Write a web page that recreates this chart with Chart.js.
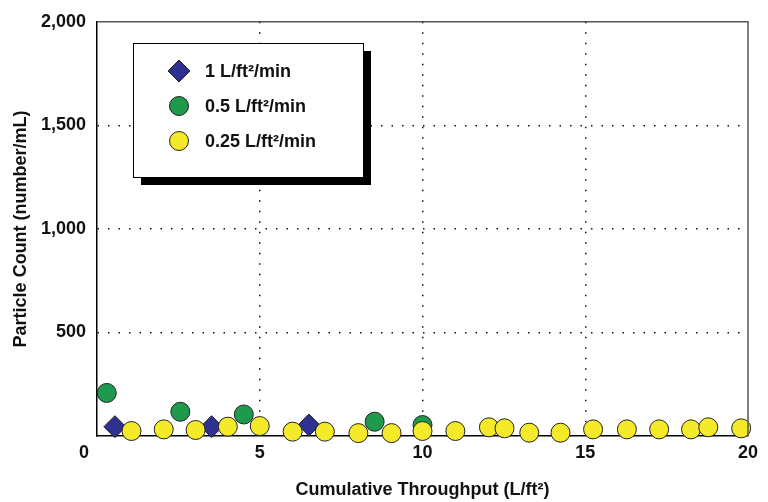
<!DOCTYPE html>
<html>
<head>
<meta charset="utf-8">
<script src="https://cdn.jsdelivr.net/npm/chart.js@4"></script>
<style>
  html, body { margin: 0; padding: 0; background: #fff; }
  #wrap { width: 768px; height: 502px; }
</style>
</head>
<body>
<div id="wrap"><canvas id="chart" width="768" height="502"></canvas></div>
<script>
// data
const seriesNames = ["1 L/ft\u00b2/min", "0.5 L/ft\u00b2/min", "0.25 L/ft\u00b2/min"];

const flow1X = [0.55, 3.52, 6.51];
const flow1Y = [45, 45, 53];

const flow05X = [0.30, 2.56, 4.51, 8.53, 10.0];
const flow05Y = [208, 117, 104, 69, 53];

const flow025X = [1.06, 2.05, 3.03, 4.02, 5.0, 6.01, 7.0, 8.03, 9.05, 10.0,
                  11.01, 12.04, 12.52, 13.28, 14.24, 15.24, 16.28, 17.27, 18.25, 18.78, 19.79];
const flow025Y = [24, 32, 29, 45, 48, 21, 21, 14, 14, 24,
                  24, 42, 37, 16, 16, 32, 32, 32, 32, 42, 37];

const xTicks = [0, 5, 10, 15, 20];
const yTicks = [0, 500, 1000, 1500, 2000];

const colors = ["#2e3192", "#1f9a4c", "#f4ea2a"];
const shapes = ["rectRot", "circle", "circle"];
const FONT = "'Liberation Sans', Arial, sans-serif";

function pts(xs, ys) {
  return xs.map((x, i) => ({ x: x, y: ys[i] }));
}

// legend box with drop shadow + shared "0" at origin + top/right frame
const extras = {
  id: "extras",
  afterDraw(chart) {
    const ctx = chart.ctx;
    const a = chart.chartArea;
    ctx.save();
    // frame top and right
    ctx.strokeStyle = "#555";
    ctx.lineWidth = 1.5;
    ctx.beginPath();
    ctx.moveTo(a.left, a.top);
    ctx.lineTo(a.right, a.top);
    ctx.lineTo(a.right, a.bottom);
    ctx.stroke();

    // origin label
    ctx.fillStyle = "#111";
    ctx.font = "bold 18px " + FONT;
    ctx.textAlign = "center";
    ctx.textBaseline = "middle";
    ctx.fillText("0", 84, 453);

    // legend
    const bx = 133, by = 43, bw = 230, bh = 134;
    ctx.fillStyle = "#000";
    ctx.fillRect(bx + 8, by + 8, bw, bh);
    ctx.fillStyle = "#fff";
    ctx.fillRect(bx, by, bw, bh);
    ctx.strokeStyle = "#000";
    ctx.lineWidth = 1;
    ctx.strokeRect(bx + 0.5, by + 0.5, bw, bh);

    const rows = [71, 106, 141];
    seriesNames.forEach((name, i) => {
      const cx = 179, cy = rows[i];
      ctx.fillStyle = colors[i];
      ctx.strokeStyle = "#222";
      ctx.lineWidth = 1;
      ctx.beginPath();
      if (shapes[i] === "rectRot") {
        ctx.moveTo(cx, cy - 11);
        ctx.lineTo(cx + 11, cy);
        ctx.lineTo(cx, cy + 11);
        ctx.lineTo(cx - 11, cy);
        ctx.closePath();
      } else {
        ctx.arc(cx, cy, 9.5, 0, Math.PI * 2);
      }
      ctx.fill();
      ctx.stroke();
      ctx.fillStyle = "#111";
      ctx.font = "bold 18px " + FONT;
      ctx.textAlign = "left";
      ctx.textBaseline = "middle";
      ctx.fillText(name, 205, cy + 1);
    });
    ctx.restore();
  }
};

new Chart(document.getElementById("chart"), {
  type: "scatter",
  data: {
    datasets: [
      {
        label: seriesNames[0], data: pts(flow1X, flow1Y), order: 2,
        pointStyle: shapes[0], pointRadius: 11, backgroundColor: colors[0],
        borderColor: "#222", borderWidth: 1
      },
      {
        label: seriesNames[1], data: pts(flow05X, flow05Y), order: 3,
        pointStyle: shapes[1], pointRadius: 9.5, backgroundColor: colors[1],
        borderColor: "#222", borderWidth: 1
      },
      {
        label: seriesNames[2], data: pts(flow025X, flow025Y), order: 1,
        pointStyle: shapes[2], pointRadius: 9.5, backgroundColor: colors[2],
        borderColor: "#222", borderWidth: 1
      }
    ]
  },
  options: {
    responsive: false,
    animation: false,
    clip: false,
    layout: { padding: { top: 17, right: 20, left: 0, bottom: 0 } },
    plugins: { legend: { display: false }, tooltip: { enabled: false } },
    scales: {
      x: {
        type: "linear",
        min: xTicks[0],
        max: xTicks[xTicks.length - 1],
        afterBuildTicks: (s) => { s.ticks = xTicks.map(v => ({ value: v })); },
        afterFit: (s) => { s.height = 66; },
        ticks: {
          padding: 6,
          color: "#111",
          font: { family: FONT, size: 18, weight: "bold" },
          callback: (v) => (v === 0 ? "" : v)
        },
        grid: {
          drawTicks: false,
          lineWidth: 1.5,
          color: (c) => (c.tick && (c.tick.value === 0 || c.tick.value === 20) ? "rgba(0,0,0,0)" : "#111")
        },
        border: { display: true, color: "#000", width: 1.5, dash: [1.5, 9] },
        title: {
          display: true,
          text: "Cumulative Throughput (L/ft\u00b2)",
          color: "#111",
          font: { family: FONT, size: 18, weight: "bold" },
          padding: { top: 0, bottom: 1 }
        }
      },
      y: {
        type: "linear",
        min: yTicks[0],
        max: yTicks[yTicks.length - 1],
        afterBuildTicks: (s) => { s.ticks = yTicks.map(v => ({ value: v })); },
        afterFit: (s) => { s.width = 97; },
        ticks: {
          padding: 11,
          color: "#111",
          font: { family: FONT, size: 18, weight: "bold" },
          callback: (v) => (v === 0 ? "" : v.toLocaleString("en-US"))
        },
        grid: {
          drawTicks: false,
          lineWidth: 1.5,
          color: (c) => (c.tick && (c.tick.value === 0 || c.tick.value === 2000) ? "rgba(0,0,0,0)" : "#111")
        },
        border: { display: true, color: "#000", width: 1.5, dash: [1.5, 9] },
        title: {
          display: true,
          text: "Particle Count (number/mL)",
          color: "#111",
          font: { family: FONT, size: 18, weight: "bold" },
          padding: { top: 10, bottom: 0 }
        }
      }
    }
  },
  plugins: [extras]
});
</script>
</body>
</html>
